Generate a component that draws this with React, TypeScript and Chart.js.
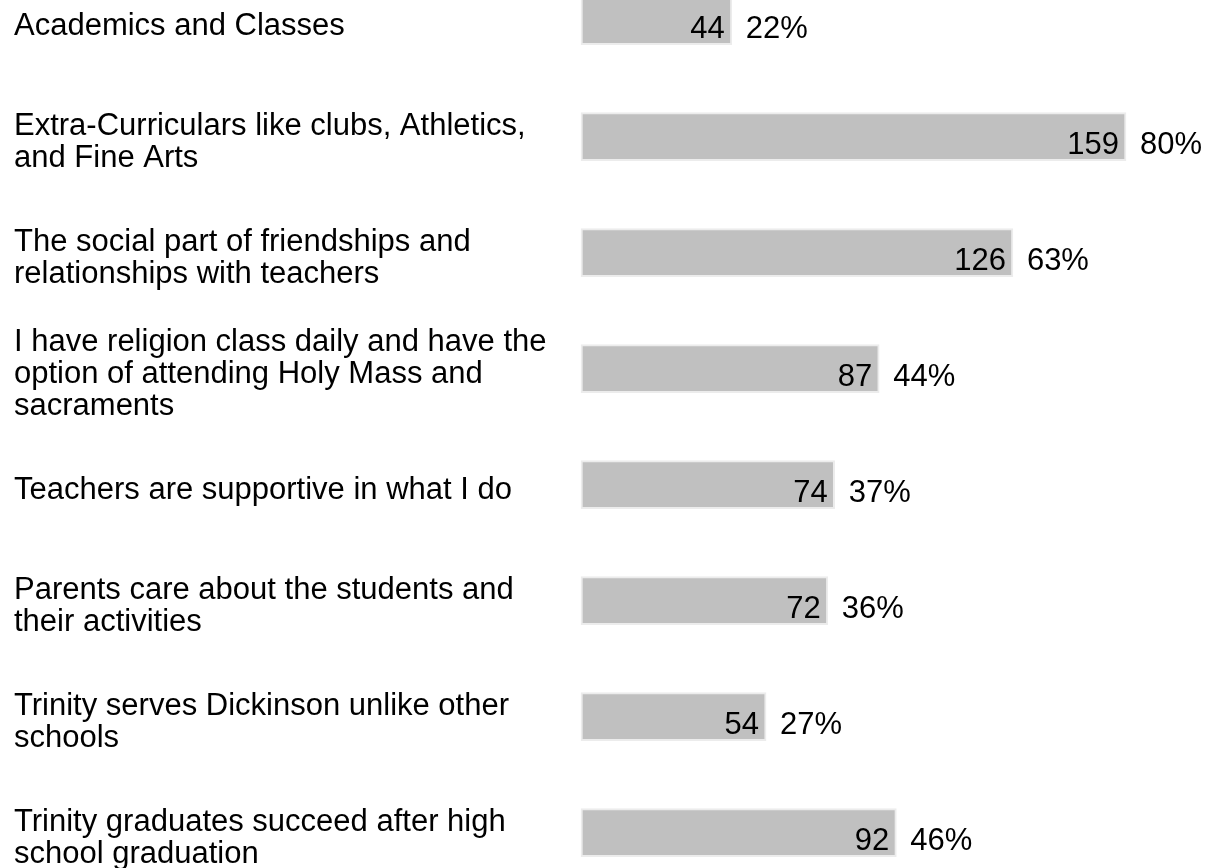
import React, { useEffect, useRef } from "react";
import { Chart, registerables } from "chart.js";

Chart.register(...registerables);

const categories: (string | string[])[] = [
  "Academics and Classes",
  ["Extra-Curriculars like clubs, Athletics,", "and Fine Arts"],
  ["The social part of friendships and", "relationships with teachers"],
  ["I have religion class daily and have the", "option of attending Holy Mass and", "sacraments"],
  "Teachers are supportive in what I do",
  ["Parents care about the students and", "their activities"],
  ["Trinity serves Dickinson unlike other", "schools"],
  ["Trinity graduates succeed after high", "school graduation"],
];

const counts: number[] = [44, 159, 126, 87, 74, 72, 54, 92];
const percents: string[] = ["22%", "80%", "63%", "44%", "37%", "36%", "27%", "46%"];

const FONT_FAMILY = '"Liberation Sans", Arial, Helvetica, sans-serif';

const valueLabelPlugin = {
  id: "valueLabels",
  afterDatasetsDraw(chart: any) {
    const ctx = chart.ctx;
    const meta = chart.getDatasetMeta(0);
    ctx.save();
    ctx.font = `31px ${FONT_FAMILY}`;
    ctx.fillStyle = "#000000";
    ctx.textBaseline = "alphabetic";
    meta.data.forEach((bar: any, i: number) => {
      const y = bar.y + 17.5;
      ctx.textAlign = "right";
      ctx.fillText(String(counts[i]), bar.x - 7, y);
      ctx.textAlign = "left";
      ctx.fillText(percents[i], bar.x + 14, y);
    });
    ctx.restore();
  },
};

export default function App() {
  const canvasRef = useRef<HTMLCanvasElement | null>(null);

  useEffect(() => {
    if (!canvasRef.current) return;
    const chart = new Chart(canvasRef.current, {
      type: "bar",
      data: {
        labels: categories,
        datasets: [
          {
            data: counts,
            backgroundColor: "#c0c0c0",
            borderColor: "#ececec",
            borderWidth: 2,
            borderSkipped: false,
            barThickness: 48,
            clip: false,
          } as any,
        ],
      },
      options: {
        indexAxis: "y",
        responsive: true,
        maintainAspectRatio: false,
        animation: false,
        layout: {
          padding: { left: 14, right: 79, top: 20.7, bottom: 35.3 },
        },
        plugins: {
          legend: { display: false },
          tooltip: { enabled: false },
        },
        scales: {
          x: {
            display: false,
            min: 0,
            max: 159,
          },
          y: {
            offset: false,
            grid: { display: false },
            border: { display: false },
            ticks: {
              crossAlign: "far",
              color: "#000000",
              padding: 0,
              labelOffset: 6,
              font: { family: FONT_FAMILY, size: 31, lineHeight: 1.03 },
            },
            afterFit(scale: any) {
              scale.width = 567;
              scale.paddingTop = 0;
              scale.paddingBottom = 0;
            },
          },
        },
      } as any,
      plugins: [valueLabelPlugin],
    });
    return () => chart.destroy();
  }, []);

  return (
    <div
      style={{
        position: "absolute",
        left: 0,
        top: 0,
        width: 1205,
        height: 868,
        background: "#ffffff",
      }}
    >
      <canvas ref={canvasRef} />
    </div>
  );
}
